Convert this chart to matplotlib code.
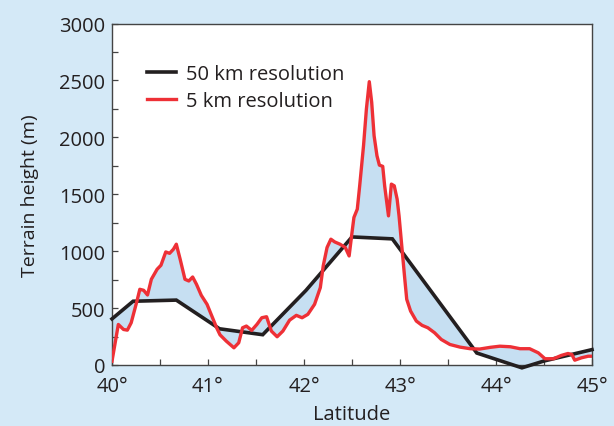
import numpy as np
import matplotlib.pyplot as plt
from matplotlib.ticker import MultipleLocator

plt.rcParams['font.family'] = ['Open Sans', 'DejaVu Sans']

# coarse model terrain (50 km grid)
lat50 = [40.0, 40.22, 40.67, 41.12, 41.57, 42.02, 42.5, 42.92, 43.8, 44.27, 44.5, 45.0]
h50 = [405, 560, 570, 318, 266, 655, 1125, 1108, 105, -25, 35, 135]

# fine model terrain (5 km grid)
lat5 = [40.0, 40.066, 40.12, 40.16, 40.2, 40.26, 40.29, 40.33, 40.37, 40.41,
        40.47, 40.51, 40.56, 40.6, 40.64, 40.67, 40.71, 40.76, 40.8, 40.84,
        40.88, 40.93, 40.99, 41.04, 41.09, 41.125, 41.19, 41.27, 41.32, 41.36,
        41.4, 41.455, 41.51, 41.56, 41.61, 41.66, 41.72, 41.78, 41.85, 41.92,
        41.98, 42.04, 42.11, 42.17, 42.2, 42.24, 42.28, 42.32, 42.375, 42.43,
        42.47, 42.5, 42.52, 42.555, 42.58, 42.62, 42.65, 42.68, 42.705, 42.73,
        42.76, 42.785, 42.82, 42.84, 42.88, 42.91, 42.94, 42.97, 42.99, 43.02,
        43.05, 43.07, 43.11, 43.17, 43.23, 43.29, 43.36, 43.43, 43.52, 43.625,
        43.73, 43.83, 43.94, 44.04, 44.15, 44.25, 44.35, 44.44, 44.51, 44.6,
        44.68, 44.75, 44.79, 44.82, 44.89, 44.96, 45.0]
h5 = [33, 356, 312, 306, 371, 562, 665, 656, 615, 753,
      841, 876, 993, 981, 1017, 1061, 929, 753, 738, 773,
      709, 612, 533, 430, 327, 265, 210, 151, 195, 327,
      342, 304, 357, 415, 424, 298, 248, 298, 394, 436,
      415, 445, 533, 680, 870, 1032, 1105, 1081, 1061, 1032,
      958, 1164, 1296, 1369, 1574, 1926, 2249, 2489, 2308, 2014,
      1838, 1756, 1745, 1574, 1310, 1589, 1574, 1457, 1310, 1030,
      753, 577, 474, 386, 348, 327, 283, 224, 180, 157,
      143, 140, 155, 165, 160, 143, 143, 107, 55, 55,
      84, 101, 92, 42, 63, 77, 77]

xticks = [40, 41, 42, 43, 44, 45]
xlabels = ['40°', '41°', '42°', '43°', '44°', '45°']

bg = '#d4e9f7'
ink = '#231f20'
red = '#ee3036'

fig = plt.figure(figsize=(6.14, 4.27), dpi=100, facecolor=bg)
ax = fig.add_axes([0.1824, 0.1429, 0.7818, 0.7997])
ax.set_facecolor('white')

# shade the difference between the two terrain profiles
grid = np.union1d(lat5, lat50)
fine = np.interp(grid, lat5, h5)
coarse = np.interp(grid, lat50, h50)
ax.fill_between(grid, fine, coarse, color='#c6dff2', lw=0, clip_on=False, zorder=1)

ax.plot(lat50, h50, color=ink, lw=2.6, label='50 km resolution',
        clip_on=False, solid_joinstyle='miter', zorder=3)
ax.plot(lat5, h5, color=red, lw=2.4, label='5 km resolution',
        solid_joinstyle='round', zorder=4)

ax.set_xlim(40, 45)
ax.set_ylim(0, 3000)
ax.set_xticks(xticks)
ax.set_xticklabels(xlabels)
ax.set_yticks(range(0, 3001, 500))
ax.xaxis.set_minor_locator(MultipleLocator(0.5))
ax.yaxis.set_minor_locator(MultipleLocator(250))
ax.tick_params(which='both', direction='in', length=4.5, width=0.9, color='#444444',
               labelsize=14.5, labelcolor=ink)
ax.tick_params(axis='x', pad=8)
ax.tick_params(axis='y', pad=5)
for s in ax.spines.values():
    s.set_color('#444444')
    s.set_linewidth(1.0)

ax.set_xlabel('Latitude', fontsize=14.5, color=ink, labelpad=6)
ax.set_ylabel('Terrain height (m)', fontsize=14, color=ink, labelpad=14)

leg = ax.legend(loc='upper left', bbox_to_anchor=(0.035, 0.935), frameon=False,
                fontsize=14.5, handlelength=1.45, handletextpad=0.5, labelspacing=0.35)
for t in leg.get_texts():
    t.set_color(ink)

fig.savefig('out.png', dpi=100, facecolor=bg)
